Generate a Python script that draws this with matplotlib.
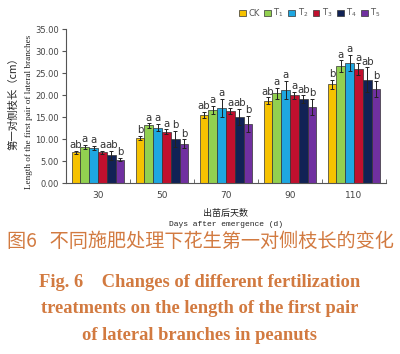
import numpy as np
import matplotlib.pyplot as plt

plt.rcParams['font.family'] = ['DejaVu Sans']

# data
days = ["30", "50", "70", "90", "110"]
treatments = ["CK", "T$_1$", "T$_2$", "T$_3$", "T$_4$", "T$_5$"]
colors = ["#F6C200", "#92D050", "#1EA7E1", "#C0102E", "#112255", "#7030A0"]

ck = [7.0, 10.3, 15.5, 18.7, 22.4]
t1 = [8.2, 13.1, 16.7, 20.4, 26.6]
t2 = [8.0, 12.6, 17.1, 21.2, 27.3]
t3 = [7.0, 11.7, 16.4, 19.9, 25.9]
t4 = [6.3, 10.1, 15.1, 19.0, 23.5]
t5 = [5.3, 8.9, 13.4, 17.3, 21.3]

ck_err = [0.3, 0.5, 0.7, 0.8, 1.0]
t1_err = [0.5, 0.5, 0.9, 1.2, 1.3]
t2_err = [0.4, 0.8, 2.0, 2.0, 1.9]
t3_err = [0.3, 0.5, 0.6, 0.8, 1.3]
t4_err = [1.0, 1.8, 1.8, 0.9, 2.8]
t5_err = [0.4, 1.0, 1.9, 1.9, 1.8]

ck_sig = ["ab", "b", "ab", "ab", "b"]
t1_sig = ["a", "a", "a", "a", "a"]
t2_sig = ["a", "a", "a", "a", "a"]
t3_sig = ["a", "a", "a", "a", "a"]
t4_sig = ["ab", "b", "ab", "ab", "ab"]
t5_sig = ["b", "b", "b", "b", "b"]

values = [ck, t1, t2, t3, t4, t5]
errors = [ck_err, t1_err, t2_err, t3_err, t4_err, t5_err]
sigs = [ck_sig, t1_sig, t2_sig, t3_sig, t4_sig, t5_sig]

fig = plt.figure(figsize=(4.0, 3.54), dpi=100)
ax = fig.add_axes([0.165, 0.483, 0.80, 0.435])

x = np.arange(len(days))
w = 0.138
for i in range(6):
    pos = x + (i - 2.5) * w
    ax.bar(pos, values[i], w, color=colors[i], edgecolor="#333333",
           linewidth=0.5, label=treatments[i], zorder=2)
    ax.errorbar(pos, values[i], yerr=errors[i], fmt="none", ecolor="#222222",
                elinewidth=0.7, capsize=1.5, capthick=0.7, zorder=3)
    for j in range(len(days)):
        ax.text(pos[j], values[i][j] + errors[i][j] + 0.15, sigs[i][j],
                ha="center", va="bottom", fontsize=7.3, color="#333333")

ax.set_xlim(-0.5, 4.5)
ax.set_ylim(0, 35)
ax.set_yticks(np.arange(0, 36, 5))
ax.set_yticklabels(["%.2f" % v for v in np.arange(0, 36, 5)],
                   fontsize=6, color="#444444")
ax.set_xticks(x)
ax.set_xticklabels(days, fontsize=6.5, color="#444444")
ax.tick_params(axis="x", length=0, pad=6)
ax.set_xticks(np.arange(-0.5, 4.6, 1), minor=True)
ax.tick_params(axis="x", which="minor", direction="in", length=3,
               color="#555555")
ax.tick_params(axis="y", length=3, color="#555555", pad=2)
for s in ["top", "right"]:
    ax.spines[s].set_visible(False)
for s in ["left", "bottom"]:
    ax.spines[s].set_color("#555555")
    ax.spines[s].set_linewidth(0.8)

# axis titles
fig.text(0.033, 0.715, "第一对侧枝长（cm）", rotation=90, ha="center",
         va="center", fontsize=7.5, family=["Noto Sans CJK SC"], color="#222222")
fig.text(0.072, 0.685, "Length of the first pair of lateral branches",
         rotation=90, ha="center", va="center", fontsize=6.6,
         family=["Liberation Serif"], color="#222222")
fig.text(0.565, 0.398, "出苗后天数", ha="center", va="center", fontsize=6.5,
         family=["Noto Sans CJK SC"], color="#222222")
fig.text(0.565, 0.365, "Days after emergence (d)", ha="center", va="center",
         fontsize=5.8, family=["Liberation Mono"], color="#222222")

fig.legend(loc="center", bbox_to_anchor=(0.775, 0.963), ncol=6, frameon=False,
           fontsize=6, handlelength=0.8, handleheight=0.8, handletextpad=0.3,
           columnspacing=0.55, labelcolor="#555555")

# caption
cap = "#D27A40"
fig.text(0.5, 0.318, "图6   不同施肥处理下花生第一对侧枝长的变化", ha="center",
         va="center", fontsize=13.8, family=["Noto Sans CJK SC"], color=cap)
fig.text(0.5, 0.203, "Fig. 6    Changes of different fertilization",
         ha="center", va="center", fontsize=13.3, family=["Liberation Serif"],
         weight="bold", color=cap)
fig.text(0.5, 0.128, "treatments on the length of the first pair",
         ha="center", va="center", fontsize=13.3, family=["Liberation Serif"],
         weight="bold", color=cap)
fig.text(0.5, 0.052, "of lateral branches in peanuts",
         ha="center", va="center", fontsize=13.3, family=["Liberation Serif"],
         weight="bold", color=cap)

fig.savefig("out.png", dpi=100)
